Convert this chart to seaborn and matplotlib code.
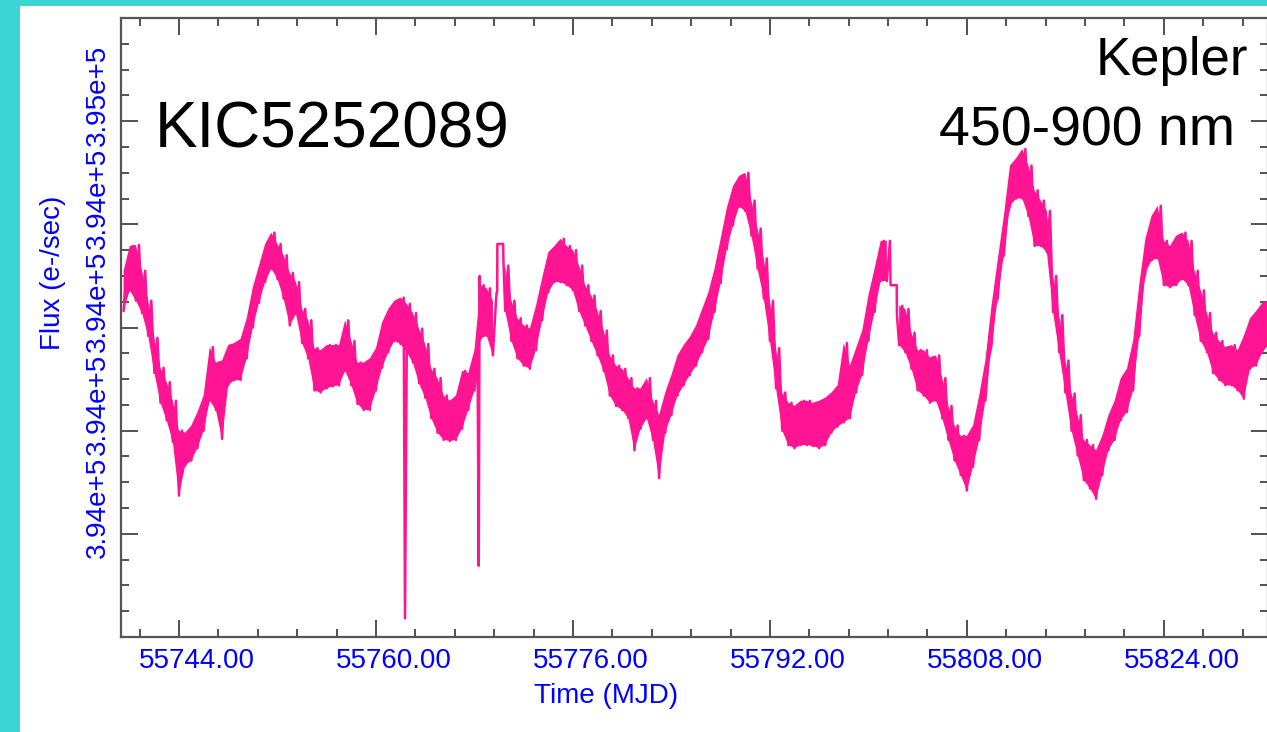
import numpy as np
import pandas as pd
import matplotlib
matplotlib.use("Agg")
import matplotlib.pyplot as plt
import matplotlib.ticker as mticker
from matplotlib.transforms import ScaledTranslation
from matplotlib.patches import Rectangle
import seaborn as sns

# ---------------------------------------------------------------- data
# Kepler long-cadence light curve of KIC5252089, sampled every half day.
# For each sample the low and high excursions of the photometric scatter.
band_time = [
    55739.5, 55740.0, 55740.5, 55741.0, 55741.5, 55742.0, 55742.5, 55743.0, 55743.5, 55744.0,
    55744.5, 55745.0, 55745.5, 55746.0, 55746.5, 55747.0, 55747.5, 55748.0, 55748.5, 55749.0,
    55749.5, 55750.0, 55750.5, 55751.0, 55751.5, 55752.0, 55752.5, 55753.0, 55753.5, 55754.0,
    55754.5, 55755.0, 55755.5, 55756.0, 55756.5, 55757.0, 55757.5, 55758.0, 55758.5, 55759.0,
    55759.5, 55760.0, 55760.5, 55761.0, 55761.5, 55762.0, 55762.5, 55763.0, 55763.5, 55764.0,
    55764.5, 55765.0, 55765.5, 55766.0, 55766.5, 55767.0, 55767.5, 55768.0, 55768.5, 55769.0,
    55769.5,          55770.5, 55771.0, 55771.5, 55772.0, 55772.5, 55773.0, 55773.5, 55774.0,
    55774.5, 55775.0, 55775.5, 55776.0, 55776.5, 55777.0, 55777.5, 55778.0, 55778.5, 55779.0,
    55779.5, 55780.0, 55780.5, 55781.0, 55781.5, 55782.0, 55782.5, 55783.0, 55783.5, 55784.0,
    55784.5, 55785.0, 55785.5, 55786.0, 55786.5, 55787.0, 55787.5, 55788.0, 55788.5, 55789.0,
    55789.5, 55790.0, 55790.5, 55791.0, 55791.5, 55792.0, 55792.5, 55793.0, 55793.5, 55794.0,
    55794.5, 55795.0, 55795.5, 55796.0, 55796.5, 55797.0, 55797.5, 55798.0, 55798.5, 55799.0,
    55799.5, 55800.0, 55800.5, 55801.0, 55801.5,          55802.5, 55803.0, 55803.5, 55804.0,
    55804.5, 55805.0, 55805.5, 55806.0, 55806.5, 55807.0, 55807.5, 55808.0, 55808.5, 55809.0,
    55809.5, 55810.0, 55810.5, 55811.0, 55811.5, 55812.0, 55812.5, 55813.0, 55813.5, 55814.0,
    55814.5, 55815.0, 55815.5, 55816.0, 55816.5, 55817.0, 55817.5, 55818.0, 55818.5, 55819.0,
    55819.5, 55820.0, 55820.5, 55821.0, 55821.5, 55822.0, 55822.5, 55823.0, 55823.5, 55824.0,
    55824.5, 55825.0, 55825.5, 55826.0, 55826.5, 55827.0, 55827.5, 55828.0, 55828.5, 55829.0,
    55829.5, 55830.0, 55830.5, 55831.0, 55831.5, 55832.0, 55832.5,
]

flux_low = [
    394366, 394386, 394376, 394364, 394342, 394306, 394277, 394260, 394239, 394187,
    394216, 394221, 394233, 394250, 394279, 394270, 394242, 394294, 394299, 394299,
    394320, 394350, 394374, 394394, 394407, 394397, 394378, 394352, 394363, 394335,
    394320, 394289, 394287, 394291, 394293, 394294, 394308, 394294, 394276, 394270,
    394270, 394289, 394311, 394326, 394337, 394334, 394326, 394316, 394296, 394282,
    394262, 394248, 394241, 394240, 394241, 394252, 394270, 394289, 394339, 394342,
    394323,         394366, 394337, 394320, 394313, 394310, 394328, 394357, 394384,
    394394, 394394, 394391, 394386, 394366, 394352, 394337, 394323, 394308, 394284,
    394274, 394270, 394262, 394231, 394252, 394262, 394241, 394204, 394248, 394265,
    394284, 394294, 394304, 394313, 394326, 394339, 394365, 394393, 394426, 394449,
    394467, 394463, 394439, 394407, 394378, 394337, 394291, 394250, 394236, 394233,
    394236, 394236, 394235, 394233, 394236, 394248, 394254, 394258, 394262, 394287,
    394304, 394337, 394365, 394395, 394395,         394333, 394326, 394310, 394289,
    394284, 394277, 394279, 394262, 394241, 394221, 394207, 394192, 394215, 394241,
    394279, 394333, 394378, 394420, 394468, 394475, 394475, 394458, 394429, 394429,
    394423, 394365, 394326, 394287, 394250, 394226, 394202, 394194, 394184, 394207,
    394231, 394241, 394260, 394268, 394289, 394342, 394403, 394415, 394417, 394391,
    394389, 394391, 394397, 394391, 394362, 394337, 394326, 394306, 394299, 394294,
    394294, 394289, 394281, 394310, 394313, 394326, 394333,
]

flux_high = [
    394405, 394429, 394430, 394405, 394376, 394340, 394311, 394297, 394279, 394250,
    394248, 394255, 394268, 394284, 394331, 394316, 394318, 394333, 394335, 394339,
    394359, 394389, 394410, 394431, 394442, 394431, 394420, 394403, 394394, 394368,
    394357, 394330, 394328, 394333, 394333, 394333, 394357, 394337, 394316, 394316,
    394320, 394330, 394355, 394368, 394376, 394379, 394373, 394364, 394349, 394334,
    394310, 394301, 394284, 394279, 394284, 394308, 394306, 394328, 394391, 394388,
    394376,         394410, 394376, 394359, 394352, 394349, 394371, 394398, 394423,
    394429, 394436, 394429, 394425, 394410, 394391, 394381, 394366, 394347, 394323,
    394313, 394310, 394301, 394291, 394291, 394301, 394279, 394265, 394287, 394304,
    394323, 394333, 394341, 394352, 394368, 394384, 394407, 394436, 394466, 394487,
    394497, 394500, 394473, 394446, 394417, 394376, 394330, 394287, 394277, 394274,
    394279, 394279, 394277, 394279, 394282, 394287, 394294, 394335, 394313, 394330,
    394347, 394381, 394407, 394434, 394434,         394371, 394368, 394345, 394328,
    394328, 394321, 394323, 394301, 394274, 394255, 394245, 394245, 394255, 394284,
    394318, 394371, 394415, 394458, 394507, 394514, 394523, 394507, 394483, 394473,
    394463, 394400, 394362, 394318, 394286, 394265, 394241, 394236, 394231, 394245,
    394265, 394279, 394301, 394310, 394337, 394391, 394436, 394458, 394468, 394434,
    394429, 394439, 394442, 394434, 394405, 394386, 394364, 394345, 394337, 394331,
    394333, 394328, 394342, 394359, 394366, 394374, 394376,
]

# Isolated cadences: two single-point dropouts, a spike, and the sparse
# stretches around the two data gaps.
event_time = [55762.36, 55768.35, 55768.42,
              55769.80, 55769.85, 55769.86, 55770.33, 55770.36,
              55801.80, 55802.30, 55802.32]
event_flux = [394068, 394119, 394400,
              394384, 394384, 394431, 394431, 394413,
              394391, 394391, 394362]

x_major_step = 16
x_minor_step = 3.2
y_ticks = [394150, 394250, 394350, 394450, 394550]
y_minor_step = 25

title = "KIC5252089"
mission = "Kepler"
passband = "450-900 nm"
x_label = "Time (MJD)"
y_label = "Flux (e-/sec)"

# ---------------------------------------------------------------- style
PINK = "#ff1493"
BLUE = "#0000ff"
CYAN = "#3dd4d6"
AXIS_GREY = "#555555"
TICK_GREY = "#333333"

sns.set_theme(style="ticks")
plt.rcParams["font.family"] = ["Liberation Sans", "DejaVu Sans"]

W, H = 1267, 732
fig = plt.figure(figsize=(W / 100, H / 100), dpi=100)
fig.patch.set_facecolor("white")

# turquoise slide frame along the left and top edges
fig.patches.extend([
    Rectangle((0, 0), 20 / W, 1, transform=fig.transFigure,
              facecolor=CYAN, edgecolor="none", zorder=0),
    Rectangle((0, 1 - 6 / H), 1, 6 / H, transform=fig.transFigure,
              facecolor=CYAN, edgecolor="none", zorder=0),
])

ax = fig.add_axes([121 / W, 95 / H, 1147 / W, 619 / H])
ax.set_facecolor("white")

# body of the scatter band, broken at the data gaps
t_arr = np.asarray(band_time, dtype=float)
lo_arr = np.asarray(flux_low, dtype=float)
hi_arr = np.asarray(flux_high, dtype=float)
breaks = np.where(np.diff(t_arr) > 0.75)[0] + 1
t_fill = np.insert(t_arr, breaks, np.nan)
lo_fill = np.insert(lo_arr, breaks, np.nan)
hi_fill = np.insert(hi_arr, breaks, np.nan)
ax.fill_between(t_fill, lo_fill, hi_fill, color=PINK, linewidth=0, zorder=2)

# ragged edges: alternate between low and high excursions
low = pd.DataFrame({"time": t_arr, "flux": lo_arr})
high = pd.DataFrame({"time": t_arr + 0.25, "flux": hi_arr})
events = pd.DataFrame({"time": event_time, "flux": event_flux})
curve = pd.concat([low, high, events], ignore_index=True)
curve = curve.sort_values("time", kind="mergesort").reset_index(drop=True)

sns.lineplot(data=curve, x="time", y="flux", estimator=None, sort=False,
             color=PINK, linewidth=1.8, ax=ax, zorder=3)

ax.set_xlim(55739.29, 55832.46)
ax.set_ylim(394050, 394650)

ax.xaxis.set_major_locator(mticker.MultipleLocator(x_major_step))
ax.xaxis.set_minor_locator(mticker.MultipleLocator(x_minor_step))
ax.xaxis.set_major_formatter(mticker.FormatStrFormatter("%.2f"))
ax.set_yticks(y_ticks)
ax.yaxis.set_minor_locator(mticker.MultipleLocator(y_minor_step))
ax.yaxis.set_major_formatter(mticker.FuncFormatter(lambda v, _: f"{v / 1e5:.2f}e+5"))

for side in ["left", "right", "top", "bottom"]:
    ax.spines[side].set_visible(True)
    ax.spines[side].set_color(AXIS_GREY)
    ax.spines[side].set_linewidth(1.6)

ax.tick_params(which="both", direction="in", top=True, right=True,
               color=TICK_GREY, width=1.2, labelcolor=BLUE, labelsize=20)
ax.tick_params(which="major", length=12)
ax.tick_params(which="minor", length=5.5)
ax.tick_params(axis="x", which="major", pad=8)
ax.tick_params(axis="y", which="major", pad=7, labelrotation=90)

ax.set_xlabel(x_label, color=BLUE, fontsize=20)
ax.set_ylabel(y_label, color=BLUE, fontsize=20)
ax.xaxis.set_label_coords(0.4233, -0.0743)
ax.yaxis.set_label_coords(-0.048, 0.588)

fig.text(155 / W, 1 - 147 / H, title, fontsize=46, color="black",
         ha="left", va="baseline")
fig.text(1248 / W, 1 - 75 / H, mission, fontsize=38, color="black",
         ha="right", va="baseline")
fig.text(1235 / W, 1 - 145 / H, passband, fontsize=40, color="black",
         ha="right", va="baseline")

# tick labels sit slightly off their ticks
fig.canvas.draw()
x_shift = ScaledTranslation(18 / 100, 0, fig.dpi_scale_trans)
y_shift = ScaledTranslation(0, 26 / 100, fig.dpi_scale_trans)
for lab in ax.get_xticklabels():
    lab.set_transform(lab.get_transform() + x_shift)
for lab in ax.get_yticklabels():
    lab.set_verticalalignment("center")
    lab.set_horizontalalignment("right")
    lab.set_transform(lab.get_transform() + y_shift)

fig.savefig("out.png", dpi=100, facecolor="white")
